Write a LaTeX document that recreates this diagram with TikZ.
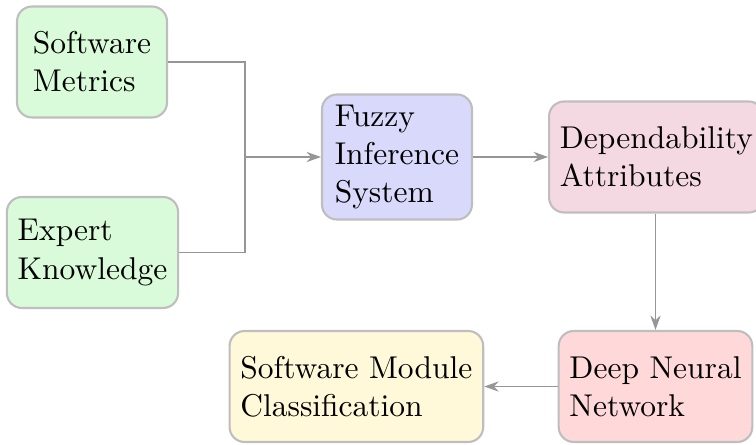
\documentclass[tikz,border=0pt]{standalone}
\usetikzlibrary{arrows.meta}
\definecolor{boxborder}{RGB}{190,190,190}
\definecolor{linegray}{RGB}{150,150,150}
\definecolor{fillgreen}{RGB}{217,251,217}
\definecolor{fillblue}{RGB}{217,217,251}
\definecolor{fillmauve}{RGB}{245,217,226}
\definecolor{fillpink}{RGB}{255,217,217}
\definecolor{fillcream}{RGB}{255,249,217}
\tikzset{
  box/.style={draw=boxborder, line width=0.7pt, rounded corners=5pt,
    align=left, inner xsep=3.6pt, inner ysep=3.5pt, minimum width=50pt,
    minimum height=37pt, font=\fontsize{10.5}{12.7}\selectfont},
  conn/.style={draw=linegray, line width=0.65pt},
  arr/.style={conn, -{Stealth[length=4.8pt,width=3.4pt]}}
}
\begin{document}
\begin{tikzpicture}[x=1pt,y=1pt]
\useasboundingbox (0,0) rectangle (252,148.33);
\node[box, fill=fillgreen] (sm) at (30.67,127.67) {Software\\Metrics};
\node[box, fill=fillgreen] (ek) at (30.83,64.17) {Expert\\Knowledge};
\node[box, fill=fillblue] (fis) at (132.33,96) {Fuzzy\\Inference\\System};
\node[box, fill=fillmauve, anchor=west] (da) at (182.67,96) {Dependability\\Attributes};
\node[box, fill=fillpink] (dnn) at (218.5,19.5) {Deep Neural\\Network};
\node[box, fill=fillcream] (smc) at (118.8,19.5) {Software Module\\Classification};
\coordinate (j) at (81.67,96);
\draw[conn] (sm.east) -| (j);
\draw[conn] (ek.east) -| (j);
\draw[arr] (j) -- (fis.west);
\draw[arr] (fis.east) -- (da.west);
\draw[arr] (dnn.north |- da.south) -- (dnn.north);
\draw[arr] (dnn.west) -- (smc.east);
\end{tikzpicture}
\end{document}
